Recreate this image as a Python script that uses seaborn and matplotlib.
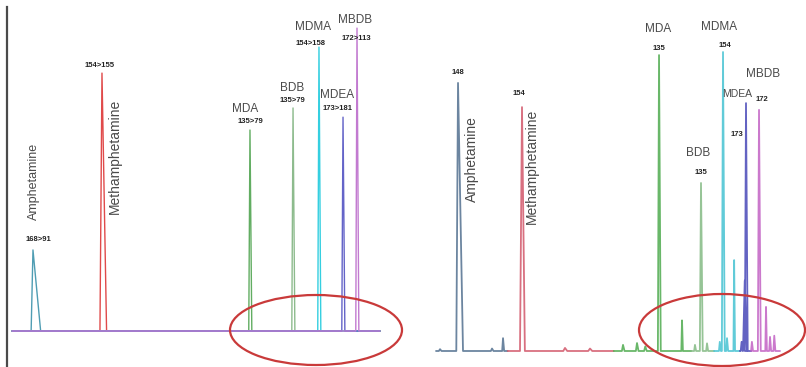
import matplotlib
matplotlib.use("Agg")
import matplotlib.pyplot as plt
from matplotlib.patches import Ellipse
import pandas as pd
import seaborn as sns

# ---------------- data ----------------
compounds = ["Amphetamine", "Methamphetamine", "MDA", "BDB", "MDMA", "MDEA", "MBDB"]

# Left chromatogram (MRM transitions), retention time in min, intensity in %
left_rt = [0.342, 1.467, 3.880, 4.582, 5.005, 5.397, 5.625]
left_height = [26.5, 84.3, 65.7, 72.9, 92.8, 69.9, 99.0]
left_lead = [0.030, 0.033, 0.020, 0.020, 0.020, 0.020, 0.020]
left_tail = [0.125, 0.075, 0.030, 0.030, 0.030, 0.030, 0.030]
left_window_start = [0.0, 0.0, 0.0, 0.0, 0.0, 0.0, 0.0]
left_window_end = [6.0, 6.0, 6.0, 6.0, 6.0, 6.0, 6.0]
left_transitions = ["168>91", "154>155", "135>79", "135>79", "154>158", "173>181", "172>113"]

# Right chromatogram (single ion traces)
right_rt = [0.384, 1.500, 3.890, 4.622, 5.006, 5.407, 5.634]
right_height = [87.6, 79.7, 96.7, 54.9, 97.7, 81.0, 78.8]
right_lead = [0.030, 0.035, 0.020, 0.020, 0.020, 0.020, 0.020]
right_tail = [0.087, 0.050, 0.030, 0.030, 0.030, 0.030, 0.030]
right_window_start = [0.0, 1.25, 3.10, 4.45, 4.85, 5.30, 5.50]
right_window_end = [1.25, 3.10, 4.45, 4.85, 5.30, 5.50, 6.00]
right_ions = ["148", "154", "135", "135", "154", "173", "172"]

# minor peaks of the right chromatogram
minor_compound = ["Amphetamine", "Amphetamine", "Amphetamine", "Methamphetamine",
                  "Methamphetamine", "MDA", "MDA", "MDA", "MDA", "BDB", "BDB",
                  "MDMA", "MDMA", "MDMA", "MDEA", "MDEA", "MBDB", "MBDB", "MBDB", "MBDB"]
minor_rt = [0.07, 0.977, 1.169, 2.25, 2.686, 3.262, 3.506, 3.65, 4.291, 4.517, 4.727,
            4.95, 5.076, 5.20, 5.33, 5.385, 5.51, 5.756, 5.826, 5.90]
minor_height = [0.6, 0.8, 4.2, 1.0, 0.8, 2.0, 2.6, 1.5, 10.0, 2.0, 2.5,
                3.0, 4.2, 29.7, 3.0, 23.0, 3.0, 14.4, 4.6, 5.0]
minor_width = [0.02, 0.02, 0.015, 0.03, 0.03, 0.02, 0.02, 0.02, 0.012, 0.015, 0.015,
               0.015, 0.015, 0.012, 0.015, 0.03, 0.015, 0.012, 0.015, 0.015]

# ---------------- style / layout ----------------
left_colors = ["#4f9db3", "#e04a4a", "#62ad62", "#8dbb8d", "#35cfe0", "#6464c8", "#c27ad0"]
right_colors = ["#52708f", "#d2576a", "#4fab4f", "#84ba84", "#45c2d2", "#4848b8", "#c262c4"]

# label offsets in pixels from the peak apex (dx right, dy down)
left_name_off = [(1, -68), (13, 83), (-5, -21), (-1, -20), (-6, -20), (-6, -22), (-2, -8)]
left_ion_off = [(5, -10), (-2, -8), (0, -8), (-1, -7), (-8, -4), (-5, -9), (-1, 10)]
left_name_rot = [90, 90, 0, 0, 0, 0, 0]
left_name_size = [9, 10, 8.5, 8.5, 8.5, 8.5, 8.5]

right_name_off = [(14, 76), (10, 59), (-1, -26), (-3, -30), (-4, -25), (-9, -9), (4, -36)]
right_ion_off = [(0, -10), (-3, -14), (0, -7), (0, -10), (2, -7), (-9, 31), (3, -10)]
right_name_rot = [90, 90, 0, 0, 0, 0, 0]
right_name_size = [10, 10, 8.5, 8.5, 8.5, 7.5, 8.5]

W, H = 806, 367
sns.set_theme(style="white")
plt.rcParams["font.family"] = ["Liberation Sans", "DejaVu Sans"]

fig = plt.figure(figsize=(W / 100, H / 100), dpi=100)
fig.patch.set_facecolor("white")


def build(names, rts, heights, leads, tails, starts, ends, extra):
    rows = []
    for i, name in enumerate(names):
        peaks = [(rts[i], heights[i], leads[i], tails[i])]
        for c, r, h, w in extra:
            if c == name:
                peaks.append((r, h, w, w * 1.3))
        peaks.sort()
        pts = [(starts[i], 0.0)]
        for r, h, l, t in peaks:
            pts += [(r - l, 0.0), (r, h), (r + t, 0.0)]
        pts.append((ends[i], 0.0))
        for k, (x, y) in enumerate(pts):
            rows.append({"trace": name, "t": x, "I": y, "k": k})
    return pd.DataFrame(rows)


txt_color = "#4a4a4a"


def labels(ax, rts, heights, names, ions, name_off, ion_off, rot, sizes, ion_size):
    for i, nm in enumerate(names):
        dx, dy = name_off[i]
        ax.annotate(nm, xy=(rts[i], heights[i]), xytext=(dx, -dy),
                    textcoords="offset pixels", ha="center", va="center",
                    rotation=rot[i], fontsize=sizes[i], color=txt_color)
        dx, dy = ion_off[i]
        ax.annotate(ions[i], xy=(rts[i], heights[i]), xytext=(dx, -dy),
                    textcoords="offset pixels", ha="center", va="center",
                    fontsize=ion_size, color="#222222", fontweight="bold")


# ---- left panel ----
axL = fig.add_axes([7 / W, 0, (400 - 7) / W, (H - 7) / H])
dfL = build(compounds, left_rt, left_height, left_lead, left_tail,
            left_window_start, left_window_end, [])
sns.lineplot(data=dfL, x="t", y="I", hue="trace", hue_order=compounds,
             palette=dict(zip(compounds, left_colors)), sort=False,
             estimator=None, legend=False, lw=1.0, alpha=1.0, ax=axL)
axL.set_xlim(-0.0815, 6.326)
axL.set_ylim(-11.76, 105.9)
axL.set_xticks([]); axL.set_yticks([])
axL.set_xlabel(""); axL.set_ylabel("")
for s in ["top", "right", "bottom"]:
    axL.spines[s].set_visible(False)
axL.spines["left"].set_color("#4a4a4a")
axL.spines["left"].set_linewidth(1.6)
axL.set_facecolor("none")
labels(axL, left_rt, left_height, compounds, left_transitions,
       left_name_off, left_ion_off, left_name_rot, left_name_size, 5.5)

# ---- right panel ----
axR = fig.add_axes([430 / W, 0, (W - 430) / W, 1])
extra = list(zip(minor_compound, minor_rt, minor_height, minor_width))
dfR = build(compounds, right_rt, right_height, right_lead, right_tail,
            right_window_start, right_window_end, extra)
sns.lineplot(data=dfR, x="t", y="I", hue="trace", hue_order=compounds,
             palette=dict(zip(compounds, right_colors)), sort=False,
             estimator=None, legend=False, lw=1.3, alpha=0.85, ax=axR)
axR.set_xlim(-0.1047, 6.4535)
axR.set_ylim(-5.23, 114.7)
axR.set_xticks([]); axR.set_yticks([])
axR.set_xlabel(""); axR.set_ylabel("")
for s in axR.spines.values():
    s.set_visible(False)
axR.set_facecolor("none")
labels(axR, right_rt, right_height, compounds, right_ions,
       right_name_off, right_ion_off, right_name_rot, right_name_size, 5.5)

# ---- highlight ellipses ----
for cx, cy, ew, eh in [(316, 330, 172, 70), (722, 330, 166, 72)]:
    fig.add_artist(Ellipse((cx / W, 1 - cy / H), ew / W, eh / H,
                           transform=fig.transFigure, fill=False,
                           ec="#c93a3a", lw=1.6, zorder=5))

fig.savefig("out.png", dpi=100, facecolor="white")
